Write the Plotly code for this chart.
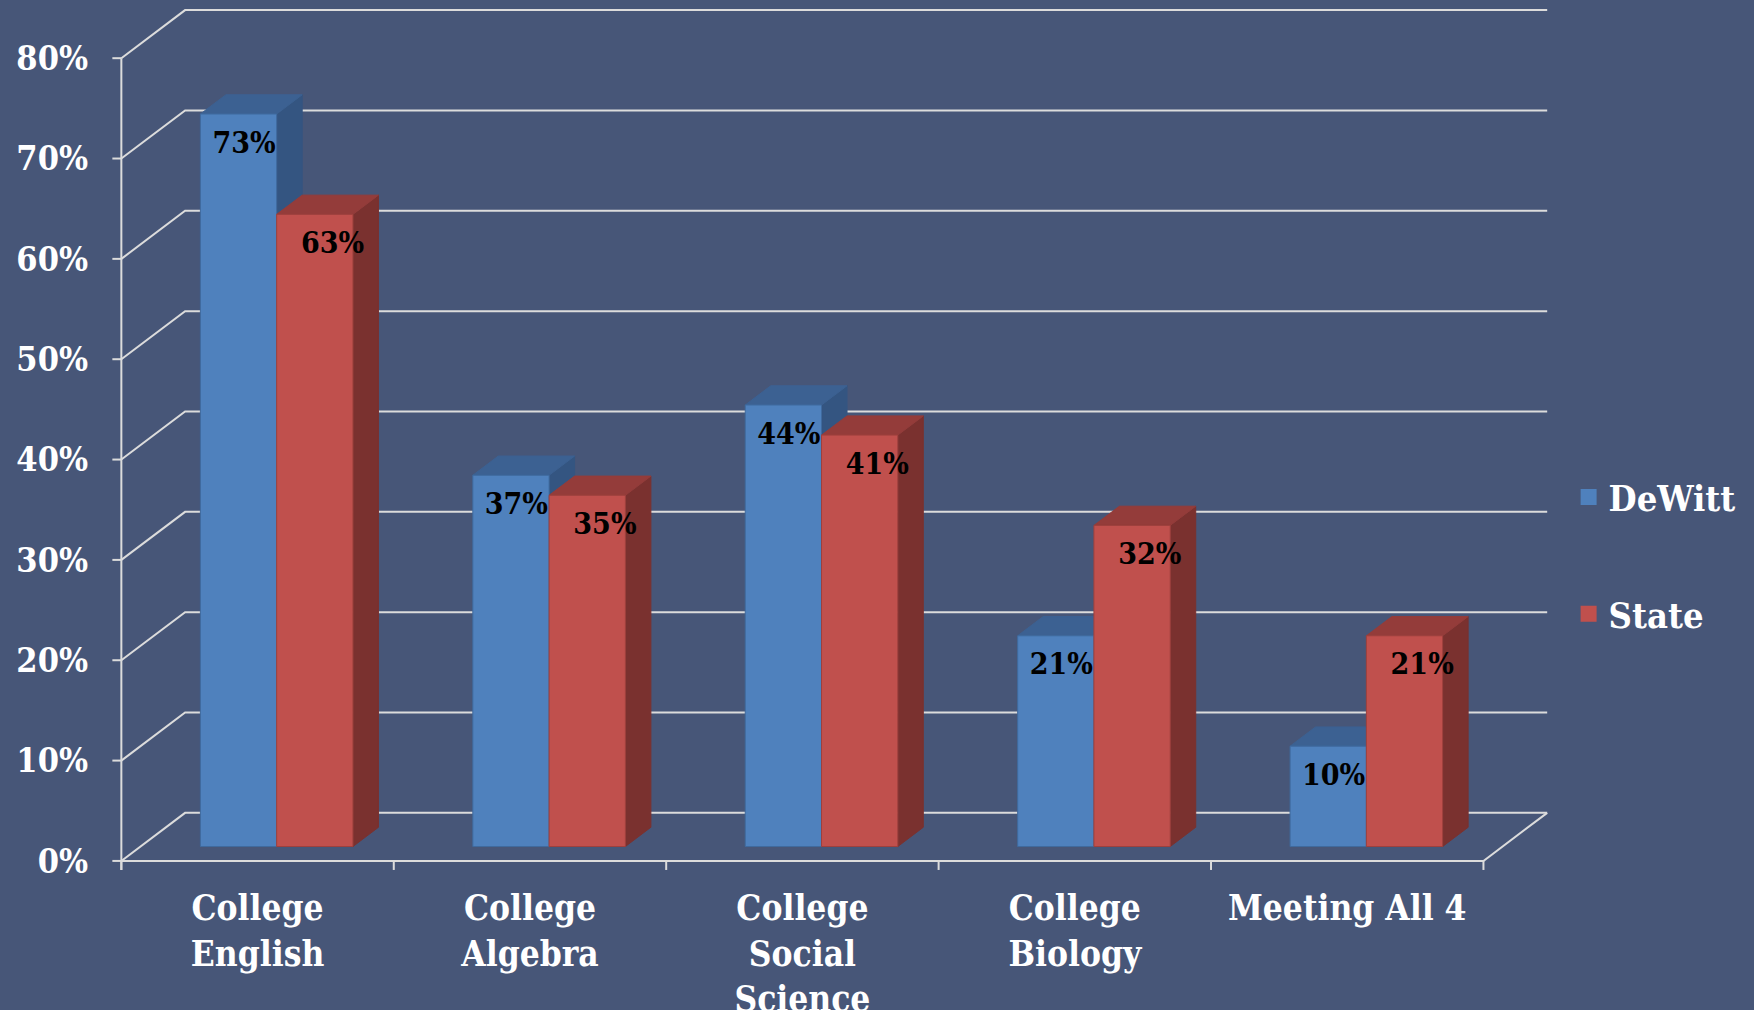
import plotly.graph_objects as go

# ---- data ----
categories = ["College<br>English", "College<br>Algebra", "College<br>Social<br>Science",
              "College<br>Biology", "Meeting All 4"]
dewitt = [73, 37, 44, 21, 10]
state = [63, 35, 41, 32, 21]
series_names = ["DeWitt", "State"]
y_ticks = [0, 10, 20, 30, 40, 50, 60, 70, 80]
y_tick_text = [f"{v}%" for v in y_ticks]

# ---- styling / geometry (not data) ----
BG = "#475678"
GRID = "#DCDCDC"
FONT = "DejaVu Serif Condensed, DejaVu Serif, serif"
DX, DY = 0.234, 4.79          # depth offset of back wall (x in category units, y in %)
D0, D1 = 0.30, 0.70           # bar depth span (fraction of depth)
BAR_W = 0.28
FRONT = ["#4F81BD", "#C0504D"]
TOP = ["#3C6192", "#943C3A"]
SIDE = ["#345581", "#7A312F"]
EDGE = ["#3F6A9E", "#9E403D"]

n = len(categories)
fig = go.Figure()

def line_trace(xs, ys, width=2):
    return go.Scatter(x=xs, y=ys, mode="lines", line=dict(color=GRID, width=width),
                      hoverinfo="skip", showlegend=False)

# side-wall diagonals + back-wall gridlines
xs, ys = [], []
for v in y_ticks:
    xs += [0, DX, n + DX, None]
    ys += [v, v + DY, v + DY, None]
fig.add_trace(line_trace(xs, ys))
# floor: front axis line, right diagonal
fig.add_trace(line_trace([0, n, n + DX], [0, 0, DY]))
# front vertical axis
fig.add_trace(line_trace([0, 0], [-0.9, y_ticks[-1]]))
# y ticks
xs, ys = [], []
for v in y_ticks:
    xs += [-0.033, 0, None]
    ys += [v, v, None]
fig.add_trace(line_trace(xs, ys))
# category ticks
xs, ys = [], []
for i in range(n + 1):
    xs += [i, i, None]
    ys += [0, -0.9, None]
fig.add_trace(line_trace(xs, ys))

def poly(px, py, fill, edge):
    return go.Scatter(x=px + [px[0]], y=py + [py[0]], mode="lines", fill="toself",
                      fillcolor=fill, line=dict(color=edge, width=1),
                      hoverinfo="skip", showlegend=False)

label_x, label_y, label_t = [], [], []
all_series = [dewitt, state]
for i in range(n):
    for s, vals in enumerate(all_series):
        v = vals[i]
        x0 = i + 0.5 - BAR_W + s * BAR_W + D0 * DX
        x1 = x0 + BAR_W
        yb = D0 * DY
        yt = yb + v
        ddx = (D1 - D0) * DX
        ddy = (D1 - D0) * DY
        # side face
        fig.add_trace(poly([x1, x1 + ddx, x1 + ddx, x1], [yb, yb + ddy, yt + ddy, yt],
                           SIDE[s], SIDE[s]))
        # top face
        fig.add_trace(poly([x0, x1, x1 + ddx, x0 + ddx], [yt, yt, yt + ddy, yt + ddy],
                           TOP[s], TOP[s]))
        # front face
        fig.add_trace(poly([x0, x1, x1, x0], [yb, yb, yt, yt], FRONT[s], EDGE[s]))
        label_x.append((x0 + x1) / 2 + (0.02 if s == 0 else 0.065))
        label_y.append(yt - 3.1)
        label_t.append(f"{v}%")

fig.add_trace(go.Scatter(x=label_x, y=label_y, text=label_t, mode="text",
                         textfont=dict(family=FONT, size=30, color="black", weight="bold"),
                         hoverinfo="skip", showlegend=False))

# legend entries
for s, name in enumerate(series_names):
    fig.add_trace(go.Scatter(x=[None], y=[None], mode="markers", name=name,
                             legendgroup=name,
                             marker=dict(symbol="square", size=18, color=FRONT[s])))

y_font = dict(family=FONT, size=34, color="white", weight="bold")
x_font = dict(family=FONT, size=35, color="white", weight="bold")
leg_font = dict(family=FONT, size=36, color="white", weight="bold")
fig.update_layout(
    width=1754, height=1010,
    paper_bgcolor=BG, plot_bgcolor=BG,
    margin=dict(l=104.5, r=197.1, t=3, b=127.6, autoexpand=False),
    font=dict(family=FONT, color="white", size=34, weight="bold"),
    showlegend=True,
    legend=dict(x=1.008, xanchor="left", y=0.472, yanchor="top",
                bgcolor="rgba(0,0,0,0)", tracegroupgap=67,
                font=leg_font),
    xaxis=dict(range=[-0.06, n + 0.27], showgrid=False, zeroline=False, showline=False,
               automargin=False,
               tickmode="array", tickvals=[i + 0.5 for i in range(n)], ticktext=categories,
               ticks="", ticklabelstandoff=2, fixedrange=True, tickfont=x_font),
    yaxis=dict(range=[-2.1, 85.5], showgrid=False, zeroline=False, showline=False,
               automargin=False,
               tickmode="array", tickvals=y_ticks, ticktext=y_tick_text,
               ticks="", ticklabelstandoff=16, fixedrange=True, tickfont=y_font),
)

fig.write_html("out.html", config={"displayModeBar": False},
               post_script="document.body.style.margin='0px';")
